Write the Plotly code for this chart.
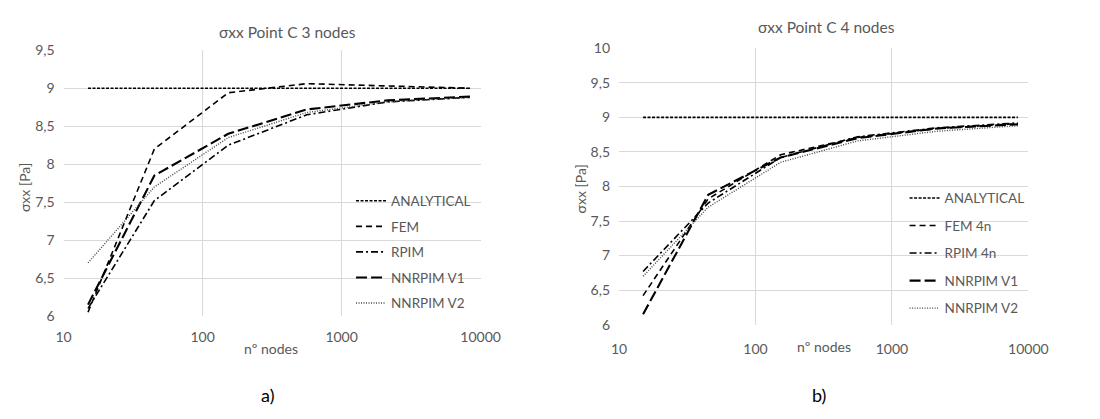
import plotly.graph_objects as go

# ---------------- data ----------------
nodes = [15, 45, 153, 561, 2145, 8385]

# chart a) 3 nodes
a_analytical = [9.0, 9.0, 9.0, 9.0, 9.0, 9.0]
a_fem = [6.05, 8.2, 8.94, 9.06, 9.03, 9.0]
a_rpim = [6.1, 7.52, 8.25, 8.65, 8.82, 8.88]
a_nnrpim_v1 = [6.15, 7.85, 8.4, 8.72, 8.84, 8.89]
a_nnrpim_v2 = [6.7, 7.7, 8.35, 8.68, 8.82, 8.88]

# chart b) 4 nodes
b_analytical = [9.0, 9.0, 9.0, 9.0, 9.0, 9.0]
b_fem = [6.42, 7.82, 8.46, 8.71, 8.84, 8.91]
b_rpim = [6.77, 7.76, 8.42, 8.72, 8.85, 8.92]
b_nnrpim_v1 = [6.15, 7.88, 8.42, 8.7, 8.84, 8.9]
b_nnrpim_v2 = [6.7, 7.7, 8.35, 8.66, 8.8, 8.88]

names_a = ["ANALYTICAL", "FEM", "RPIM", "NNRPIM V1", "NNRPIM V2"]
names_b = ["ANALYTICAL", "FEM 4n", "RPIM 4n", "NNRPIM V1", "NNRPIM V2"]

x_tickvals = [10, 100, 1000, 10000]
x_ticktext = ["10", "100", "1000", "10000"]
ya_tickvals = [6, 6.5, 7, 7.5, 8, 8.5, 9, 9.5]
ya_ticktext = ["6", "6,5", "7", "7,5", "8", "8,5", "9", "9,5"]
yb_tickvals = [6, 6.5, 7, 7.5, 8, 8.5, 9, 9.5, 10]
yb_ticktext = ["6", "6,5", "7", "7,5", "8", "8,5", "9", "9,5", "10"]

# ---------------- styles ----------------
FONT = "Lato"
GRAY = "#595959"
GRID = "#d9d9d9"
styles = [
    dict(color="black", width=1.6, dash="3px,1.5px"),
    dict(color="black", width=1.6, dash="6px,4px"),
    dict(color="black", width=1.6, dash="7px,3px,2px,3px"),
    dict(color="black", width=2.1, dash="11px,4px"),
    dict(color="#444444", width=1.4, dash="1px,1.5px"),
]

fig = go.Figure()

series_a = [a_analytical, a_fem, a_rpim, a_nnrpim_v1, a_nnrpim_v2]
series_b = [b_analytical, b_fem, b_rpim, b_nnrpim_v1, b_nnrpim_v2]

for i, (nm, ys) in enumerate(zip(names_a, series_a)):
    fig.add_trace(go.Scatter(x=nodes, y=ys, name=nm, mode="lines", line=styles[i],
                             xaxis="x", yaxis="y", legend="legend",
                             legendgroup="a%d" % i))
for i, (nm, ys) in enumerate(zip(names_b, series_b)):
    fig.add_trace(go.Scatter(x=nodes, y=ys, name=nm, mode="lines", line=styles[i],
                             xaxis="x2", yaxis="y2", legend="legend2",
                             legendgroup="b%d" % i))

W, H = 1100, 419

def px_x(v):
    return v / W

def px_y(v):
    return 1 - v / H

axis_common = dict(showgrid=True, gridcolor=GRID, gridwidth=1, showline=False,
                   zeroline=False, ticks="", tickfont=dict(family=FONT, size=14, color=GRAY))

fig.update_layout(
    width=W, height=H,
    margin=dict(l=0, r=0, t=0, b=0),
    paper_bgcolor="white", plot_bgcolor="white",
    font=dict(family=FONT, color=GRAY),
    xaxis=dict(type="log", range=[1, 4], domain=[px_x(57), px_x(485)], anchor="y",
               tickvals=x_tickvals, ticktext=x_ticktext, ticklabelstandoff=11, **axis_common),
    yaxis=dict(range=[6, 9.5], domain=[px_y(320), px_y(43)], anchor="x",
               tickvals=ya_tickvals, ticktext=ya_ticktext, ticklabelstandoff=8, **axis_common),
    xaxis2=dict(type="log", range=[1, 4], domain=[px_x(627), px_x(1047)], anchor="y2",
                tickvals=x_tickvals, ticktext=x_ticktext, ticklabelstandoff=14, **axis_common),
    yaxis2=dict(range=[6, 10], domain=[px_y(329), px_y(41)], anchor="x2",
                tickvals=yb_tickvals, ticktext=yb_ticktext, ticklabelstandoff=8, **axis_common),
    legend=dict(x=px_x(352), y=px_y(184), xanchor="left", yanchor="top",
                bgcolor="rgba(0,0,0,0)", font=dict(family=FONT, size=13.5, color=GRAY),
                traceorder="grouped", tracegroupgap=5, itemwidth=30),
    legend2=dict(x=px_x(920), y=px_y(181), xanchor="left", yanchor="top",
                 bgcolor="rgba(0,0,0,0)", font=dict(family=FONT, size=13.5, color=GRAY),
                 traceorder="grouped", tracegroupgap=7, itemwidth=30),
    showlegend=True,
)

ann = []
def add_text(text, x, y, size=13, color=GRAY, angle=0):
    ann.append(dict(text=text, x=px_x(x), y=px_y(y), xref="paper", yref="paper",
                    showarrow=False, xanchor="center", yanchor="middle",
                    textangle=angle, font=dict(family=FONT, size=size, color=color)))

add_text("σxx Point C 3 nodes", 287, 24, size=15.5)
add_text("σxx Point C 4 nodes", 840, 19, size=15.5)
add_text("σxx [Pa]", 17, 186, size=14, angle=-90)
add_text("σxx [Pa]", 587, 188, size=14, angle=-90)
add_text("nº nodes", 270, 354, size=14)
add_text("nº nodes", 837, 352, size=14)
add_text("a)", 266, 402, size=18, color="black")
add_text("b)", 832, 402, size=18, color="black")
fig.update_layout(annotations=ann)

fig.write_html("out.html")
